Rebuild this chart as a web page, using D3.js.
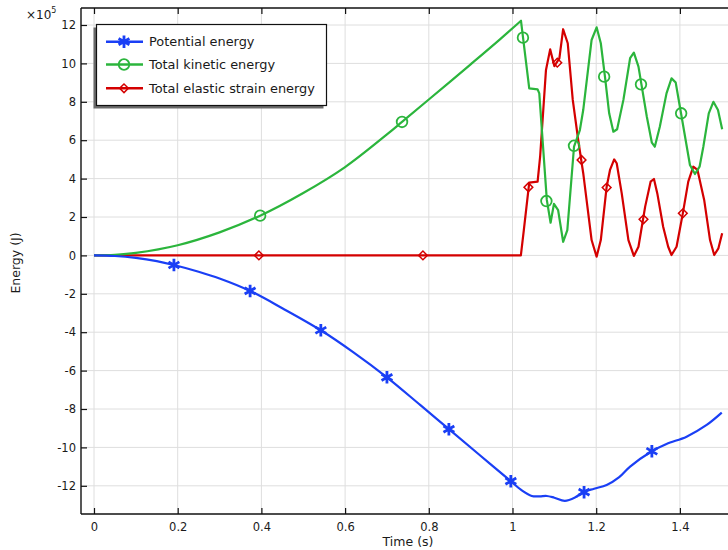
<html>
<head>
<script src="https://d3js.org/d3.v7.min.js"></script>
<style>
  body { margin: 0; background: #fff; }
  text { font-family: "DejaVu Sans", sans-serif; fill: #1a1a1a; }
</style>
</head>
<body>
<svg width="728" height="550"></svg>
<script>
// time (s) and energy (x 1e5 J)
const potT = [0, 0.05, 0.1, 0.15, 0.191, 0.25, 0.3, 0.373, 0.45, 0.542, 0.62, 0.70, 0.78, 0.848, 0.92, 0.996, 1.02, 1.046, 1.065, 1.082, 1.1, 1.125, 1.15, 1.169, 1.195, 1.225, 1.255, 1.281, 1.333, 1.368, 1.416, 1.464, 1.5];
const potV = [0, -0.03, -0.13, -0.3, -0.5, -0.85, -1.2, -1.85, -2.75, -3.9, -5.05, -6.35, -7.8, -9.05, -10.37, -11.76, -12.2, -12.53, -12.55, -12.53, -12.62, -12.78, -12.6, -12.33, -12.15, -11.96, -11.55, -11.0, -10.2, -9.82, -9.44, -8.83, -8.19];

const kinT = [0, 0.05, 0.1, 0.2, 0.3, 0.397, 0.5, 0.6, 0.7, 0.736, 0.8, 0.9, 0.97, 1.0203, 1.040, 1.060, 1.064, 1.082, 1.091, 1.099, 1.109, 1.121, 1.131, 1.147, 1.161, 1.169, 1.189, 1.201, 1.211, 1.221, 1.231, 1.241, 1.250, 1.265, 1.281, 1.290, 1.301, 1.321, 1.333, 1.340, 1.352, 1.368, 1.380, 1.390, 1.400, 1.424, 1.436, 1.447, 1.456, 1.469, 1.480, 1.491, 1.501];
const kinV = [0, 0.03, 0.13, 0.53, 1.2, 2.07, 3.25, 4.6, 6.3, 6.95, 8.12, 9.95, 11.25, 12.22, 8.7, 8.65, 8.44, 2.89, 1.70, 2.68, 2.36, 0.71, 1.32, 5.66, 6.53, 7.57, 11.22, 11.88, 11.05, 9.3, 7.4, 6.44, 6.57, 8.1, 10.27, 10.56, 9.83, 7.22, 5.87, 5.66, 6.70, 8.44, 9.22, 9.00, 7.74, 4.71, 4.24, 4.62, 5.66, 7.40, 8.00, 7.57, 6.57];

const elaT = [0, 0.5, 1.020, 1.027, 1.040, 1.060, 1.066, 1.080, 1.090, 1.100, 1.112, 1.121, 1.132, 1.144, 1.157, 1.169, 1.179, 1.189, 1.201, 1.211, 1.225, 1.233, 1.243, 1.249, 1.261, 1.277, 1.290, 1.301, 1.317, 1.330, 1.338, 1.346, 1.360, 1.372, 1.380, 1.392, 1.407, 1.420, 1.432, 1.442, 1.458, 1.472, 1.482, 1.492, 1.501];
const elaV = [0, 0, 0, 1.3, 3.79, 3.84, 5.14, 9.66, 10.73, 9.86, 10.26, 11.78, 11.05, 8.10, 6.01, 4.28, 2.54, 0.80, -0.07, 0.80, 3.58, 4.45, 5.00, 4.80, 3.23, 0.80, -0.03, 0.45, 2.54, 3.84, 3.98, 3.23, 1.49, 0.45, 0.02, 0.45, 2.19, 3.84, 4.62, 4.45, 2.89, 0.80, 0.02, 0.37, 1.15];

// marker positions
const potMarkT = [0.191, 0.373, 0.542, 0.70, 0.848, 0.996, 1.171, 1.333];
const potMarkV = [-0.5, -1.85, -3.9, -6.35, -9.05, -11.76, -12.33, -10.2];
const kinMarkT = [0.397, 0.736, 1.025, 1.081, 1.147, 1.219, 1.307, 1.403];
const kinMarkV = [2.07, 6.95, 11.34, 2.83, 5.71, 9.31, 8.91, 7.40];
const elaMarkT = [0.394, 0.786, 1.038, 1.107, 1.165, 1.225, 1.313, 1.407];
const elaMarkV = [0, 0, 3.55, 10.04, 4.97, 3.53, 1.88, 2.19];

const xTicks = [0, 0.2, 0.4, 0.6, 0.8, 1, 1.2, 1.4];
const yTicks = [-12, -10, -8, -6, -4, -2, 0, 2, 4, 6, 8, 10, 12];
const seriesNames = ["Potential energy", "Total kinetic energy", "Total elastic strain energy"];
const seriesColors = ["#1a3ff5", "#2bb53c", "#d40000"];

const svg = d3.select("svg");
const pLeft = 81, pRight = 728, pTop = 8, pBottom = 514;

const x = d3.scaleLinear().domain([0, 1.5]).range([94, 721.75]);
const y = d3.scaleLinear().domain([-12, 12]).range([485.8, 25]);

svg.append("defs").append("clipPath").attr("id", "clip")
  .append("rect").attr("x", pLeft).attr("y", pTop).attr("width", pRight - pLeft).attr("height", pBottom - pTop);

// grid
const grid = svg.append("g").attr("stroke", "#dedede").attr("stroke-width", 1);
grid.selectAll("line.vx").data(xTicks).join("line").attr("class", "vx")
  .attr("x1", d => x(d)).attr("x2", d => x(d)).attr("y1", pTop).attr("y2", pBottom);
grid.selectAll("line.hy").data(yTicks).join("line").attr("class", "hy")
  .attr("x1", pLeft).attr("x2", pRight).attr("y1", d => y(d)).attr("y2", d => y(d));

// axes (ticks point inward)
const fmt = d => String(d);
const xAxis = svg.append("g").attr("transform", `translate(0,${pBottom})`)
  .call(d3.axisBottom(x).tickValues(xTicks).tickFormat(fmt).tickSize(-6).tickPadding(9));
const xTop = svg.append("g").attr("transform", `translate(0,${pTop})`)
  .call(d3.axisTop(x).tickValues(xTicks).tickFormat("").tickSize(-6));
const yAxis = svg.append("g").attr("transform", `translate(${pLeft},0)`)
  .call(d3.axisLeft(y).tickValues(yTicks).tickFormat(fmt).tickSize(-6).tickPadding(5));
[xAxis, xTop, yAxis].forEach(g => {
  g.select(".domain").remove();
  g.selectAll(".tick line").attr("stroke", "#111").attr("stroke-width", 1.2);
  g.selectAll("text").style("font-size", "11.5px").attr("fill", "#1a1a1a");
});

// frame
const frame = svg.append("g").attr("stroke", "#111").attr("stroke-width", 1.4);
frame.append("line").attr("x1", pLeft).attr("x2", pLeft).attr("y1", pTop).attr("y2", pBottom);
frame.append("line").attr("x1", pLeft).attr("x2", pRight).attr("y1", pBottom).attr("y2", pBottom);
frame.append("line").attr("x1", pLeft).attr("x2", pRight).attr("y1", pTop).attr("y2", pTop);

// series
const plot = svg.append("g").attr("clip-path", "url(#clip)");
const zip = (a, b) => a.map((t, i) => [t, b[i]]);

const smooth = d3.line().x(d => x(d[0])).y(d => y(d[1])).curve(d3.curveCatmullRom.alpha(0.5));
const straight = d3.line().x(d => x(d[0])).y(d => y(d[1]));

plot.append("path").datum(zip(elaT, elaV)).attr("d", straight)
  .attr("fill", "none").attr("stroke", seriesColors[2]).attr("stroke-width", 2.2).attr("stroke-linejoin", "round");
plot.append("path").datum(zip(kinT, kinV)).attr("d", d => smooth(d.slice(0, 14)) + straight(d.slice(13)).replace(/^M/, "L"))
  .attr("fill", "none").attr("stroke", seriesColors[1]).attr("stroke-width", 2.2).attr("stroke-linejoin", "round");
plot.append("path").datum(zip(potT, potV)).attr("d", smooth)
  .attr("fill", "none").attr("stroke", seriesColors[0]).attr("stroke-width", 2.2);

const star = d3.symbol(d3.symbolAsterisk, 110);
const diamond = d3.symbol(d3.symbolSquare, 38);

function drawStar(g, cx, cy) {
  g.append("path").attr("d", star()).attr("transform", `translate(${cx},${cy})`)
    .attr("fill", "none").attr("stroke", seriesColors[0]).attr("stroke-width", 2.8);
}
function drawCircle(g, cx, cy) {
  g.append("circle").attr("cx", cx).attr("cy", cy).attr("r", 5.3)
    .attr("fill", "none").attr("stroke", seriesColors[1]).attr("stroke-width", 1.8);
}
function drawDiamond(g, cx, cy) {
  g.append("path").attr("d", diamond()).attr("transform", `translate(${cx},${cy}) rotate(45)`)
    .attr("fill", "none").attr("stroke", seriesColors[2]).attr("stroke-width", 1.5);
}
const drawers = [drawStar, drawCircle, drawDiamond];

elaMarkT.forEach((t, i) => drawDiamond(plot, x(t), y(elaMarkV[i])));
kinMarkT.forEach((t, i) => drawCircle(plot, x(t), y(kinMarkV[i])));
potMarkT.forEach((t, i) => drawStar(plot, x(t), y(potMarkV[i])));

// axis titles
svg.append("text").attr("x", 408).attr("y", 546).attr("text-anchor", "middle")
  .style("font-size", "12.5px").text("Time (s)");
svg.append("text").attr("transform", "translate(20,263) rotate(-90)").attr("text-anchor", "middle")
  .style("font-size", "12.5px").text("Energy (J)");
const mult = svg.append("text").attr("x", 26).attr("y", 19).style("font-size", "12px");
mult.append("tspan").text("×10");
mult.append("tspan").attr("dy", -6).style("font-size", "8px").text("5");

// legend
const lg = svg.append("g");
lg.append("rect").attr("x", 93.5).attr("y", 27.5).attr("width", 230).attr("height", 81).attr("fill", "#6a6a6a");
lg.append("rect").attr("x", 96.5).attr("y", 24.5).attr("width", 230).attr("height", 81)
  .attr("fill", "#fff").attr("stroke", "#111").attr("stroke-width", 1.2);
const rowsY = [41.7, 64.5, 88.3];
seriesNames.forEach((name, i) => {
  const ry = rowsY[i];
  lg.append("line").attr("x1", 106).attr("x2", 143).attr("y1", ry).attr("y2", ry)
    .attr("stroke", seriesColors[i]).attr("stroke-width", 2.4);
  drawers[i](lg, 124, ry);
  lg.append("text").attr("x", 149).attr("y", ry + 4.6).style("font-size", "12.9px").text(name);
});
</script>
</body>
</html>
